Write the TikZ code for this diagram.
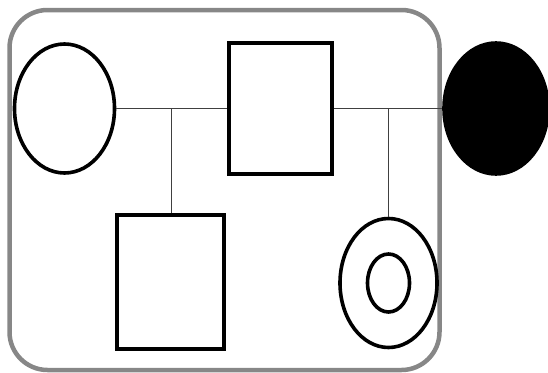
\documentclass[tikz,border=0pt]{standalone}
\usetikzlibrary{shapes.geometric,positioning,calc}
\definecolor{framegray}{rgb}{0.53,0.53,0.53}
\definecolor{linkgray}{rgb}{0.25,0.25,0.25}

\begin{document}
\begin{tikzpicture}[x=1pt,y=-1pt,
    female/.style={ellipse,draw,line width=3.6pt,inner sep=0pt},
    male/.style={rectangle,draw,line width=4.5pt,inner sep=0pt},
    link/.style={linkgray,line width=1.3pt}]
    \useasboundingbox (0,0) rectangle (548,372);
    % family frame
    \draw[framegray,line width=4.5pt,rounded corners=38pt] (9.5,10) rectangle (439.5,370);
    % parents
    \node[female,minimum width=100pt,minimum height=129pt] (mother) at (64.5,108.5) {};
    \node[male,minimum width=103pt,minimum height=131pt] (father) at (280.5,108.5) {};
    \node[female,fill=black,minimum width=104pt,minimum height=131pt] (partner) at (496,108.5) {};
    % children
    \node[male,minimum width=107pt,minimum height=134pt] (son) at (170.5,282) {};
    \node[female,minimum width=97pt,minimum height=129pt] (daughter) at (388.5,283) {};
    \node[female,minimum width=42pt,minimum height=58pt] (daughterin) at (daughter.center) {};
    % marriage lines
    \draw[link] (mother) -- (father);
    \draw[link] (father) -- (partner);
    \coordinate (leftmid) at ($(mother.east)!0.5!(father.west)$);
    \coordinate (rightmid) at ($(father.east)!0.5!(partner.west)$);
    % descent lines
    \draw[link] (leftmid) -- (leftmid |- son.north);
    \draw[link] (rightmid) -- (rightmid |- daughter.north);
\end{tikzpicture}
\end{document}
